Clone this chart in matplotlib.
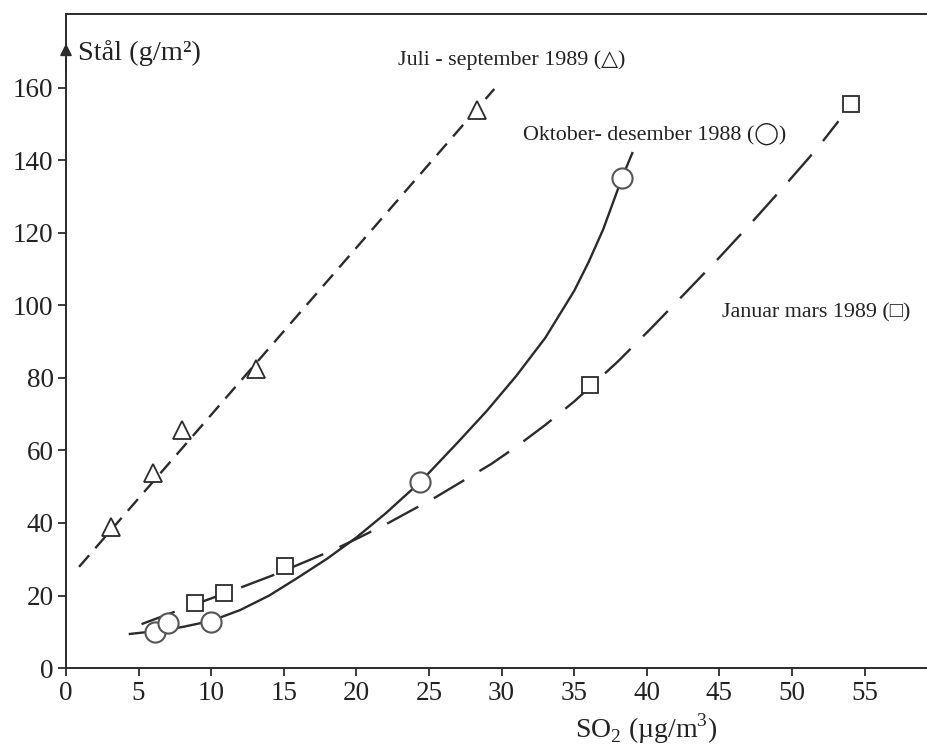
import numpy as np
import matplotlib
matplotlib.use('Agg')
import matplotlib.pyplot as plt

plt.rcParams['font.family'] = ['Liberation Serif', 'DejaVu Serif', 'DejaVu Sans']
plt.rcParams['mathtext.fontset'] = 'custom'
plt.rcParams['mathtext.rm'] = 'Liberation Serif'

# Juli - september 1989 (triangles)
tri_x = [3.1, 6.0, 8.0, 13.1, 28.3]
tri_y = [38.8, 53.8, 65.7, 82.6, 153.9]
tri_line_x = [0.9, 29.5]
tri_line_y = [27.9, 159.7]

# Oktober - desember 1988 (circles)
circ_x = [6.1, 7.0, 10.0, 24.4, 38.3]
circ_y = [9.9, 12.4, 12.7, 51.3, 135.2]
circ_line_x = [4.4, 6.0, 8.0, 10.0, 12.0, 14.0, 16.0, 18.0, 20.0, 22.0, 24.4,
               27.0, 29.0, 31.0, 33.0, 35.0, 36.0, 37.0, 38.3, 39.0]
circ_line_y = [9.4, 10.1, 11.3, 13.0, 16.0, 20.0, 25.0, 30.2, 36.0, 42.6, 51.3,
               62.3, 71.0, 80.5, 91.0, 104.0, 112.0, 121.0, 135.2, 142.0]

# Januar - mars 1989 (squares)
sq_x = [8.9, 10.9, 15.1, 36.1, 54.1]
sq_y = [17.9, 20.7, 28.1, 78.1, 155.6]
sq_line_x = [5.2, 8.0, 10.0, 12.1, 14.2, 16.3, 18.5, 20.3, 22.2, 25.5, 29.3, 31.0,
             33.0, 35.0, 36.1, 38.0, 40.2, 42.5, 44.9, 47.3, 49.6, 51.8, 53.2]
sq_line_y = [12.1, 16.3, 19.2, 22.3, 25.5, 29.0, 32.7, 36.2, 40.0, 47.2, 56.3, 61.0,
             67.0, 73.5, 77.5, 84.5, 93.3, 102.8, 112.8, 123.2, 133.5, 143.6, 150.8]

x_ticks = [0, 5, 10, 15, 20, 25, 30, 35, 40, 45, 50, 55]
y_ticks = [0, 20, 40, 60, 80, 100, 120, 140, 160]

ink = '#2b2b2b'
txt = '#222222'

fig = plt.figure(figsize=(9.27, 7.5), dpi=100)
ax = fig.add_axes([0.0712, 0.1093, 0.9288, 0.8722])
ax.set_xlim(0, 59.3)
ax.set_ylim(0, 180.4)

ax.plot(tri_line_x, tri_line_y, color=ink, lw=1.7, dashes=(6.5, 4.0), zorder=2)
ax.plot(circ_line_x, circ_line_y, color=ink, lw=1.7, zorder=2)
ax.plot(sq_line_x, sq_line_y, color=ink, lw=1.7, dashes=(15, 7.5), zorder=2)

ax.plot(tri_x, tri_y, ls='none', marker='^', ms=13, mfc='white', mec=ink, mew=1.3, zorder=3)
ax.plot(circ_x, circ_y, ls='none', marker='o', ms=14.5, mfc='white', mec='#555555', mew=1.5, zorder=3)
ax.plot(sq_x, sq_y, ls='none', marker='s', ms=12, mfc='white', mec=ink, mew=1.3, zorder=3)

ax.spines['right'].set_visible(False)
for s in ['left', 'top', 'bottom']:
    ax.spines[s].set_color(ink)
    ax.spines[s].set_linewidth(1.4)

ax.set_xticks(x_ticks)
ax.set_yticks(y_ticks)
ax.tick_params(direction='out', length=6, width=1.3, color=ink, labelsize=19.5,
               labelcolor=txt, pad=3)

# arrow head on the y axis
ax.annotate('', xy=(0, 173), xytext=(0, 164),
            arrowprops=dict(arrowstyle='-|>', color=ink, lw=1.2, mutation_scale=18),
            annotation_clip=False)

ax.text(0.85, 167.8, 'Stål (g/m²)', fontsize=20.5, color=txt, va='baseline', ha='left')
ax.text(22.85, 166.3, 'Juli - september 1989 (△)', fontsize=15.8, color=txt,
        va='baseline', ha='left')
ax.text(31.45, 145.7, 'Oktober- desember 1988 (◯)', fontsize=15.8, color=txt,
        va='baseline', ha='left')
ax.text(45.2, 96.6, 'Januar mars 1989 (□)', fontsize=15.8, color=txt,
        va='baseline', ha='left')

ax.set_xlabel('SO$_2$ (µg/m$^3$)', fontsize=20, color=txt)
ax.xaxis.set_label_coords(0.674, -0.067)

fig.savefig('out.png', dpi=100)
